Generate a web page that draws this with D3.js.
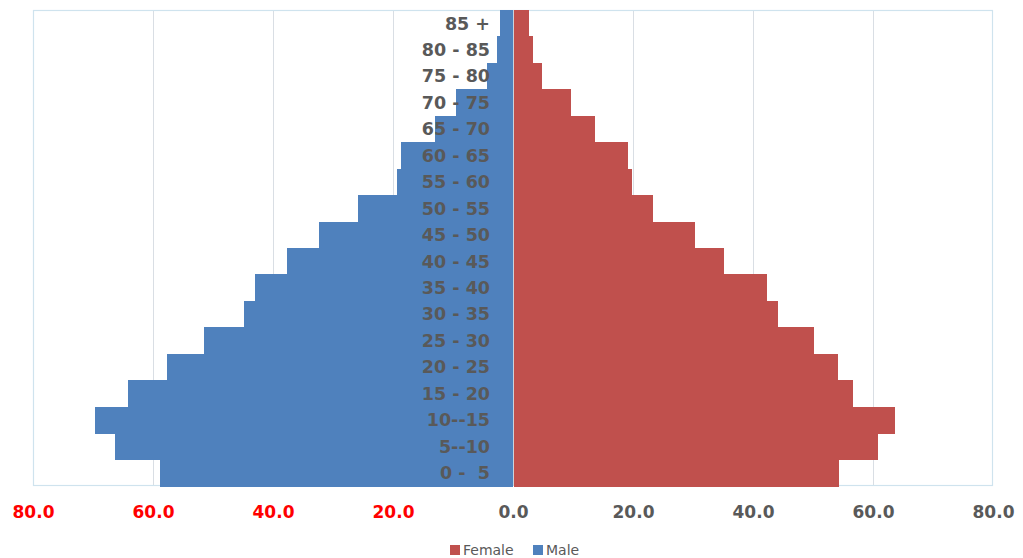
<!DOCTYPE html>
<html>
<head>
<meta charset="utf-8">
<script src="https://cdn.jsdelivr.net/npm/d3@7"></script>
<style>
  html, body { margin: 0; padding: 0; background: #fff; }
  svg { display: block; }
</style>
</head>
<body>
<svg id="chart" width="1023" height="558"></svg>
<script>
const ageGroups = ["85 +", "80 - 85", "75 - 80", "70 - 75", "65 - 70", "60 - 65", "55 - 60", "50 - 55", "45 - 50", "40 - 45", "35 - 40", "30 - 35", "25 - 30", "20 - 25", "15 - 20", "10--15", "5--10", "0 -  5"];
const maleValues = [2.2, 2.7, 4.4, 9.5, 13.0, 18.7, 19.4, 25.9, 32.3, 37.6, 43.0, 44.8, 51.5, 57.7, 64.1, 69.6, 66.4, 58.8];
const femaleValues = [2.7, 3.3, 4.8, 9.6, 13.6, 19.1, 19.8, 23.3, 30.3, 35.1, 42.3, 44.1, 50.2, 54.1, 56.7, 63.6, 60.9, 54.3];
const tickValues = [-80, -60, -40, -20, 0, 20, 40, 60, 80];
const seriesNames = ["Female", "Male"];

(function () {
const svg = d3.select("#chart");
const pLeft = 33, pRight = 993, pTop = 10, pBottom = 486;
const colors = { Female: "#C0504D", Male: "#4F81BD" };

const x = d3.scaleLinear().domain([-80, 80]).range([pLeft, pRight]);
const y = d3.scaleBand().domain(ageGroups).range([pTop, pBottom]).padding(0);

// gridlines
svg.append("g").selectAll("line")
  .data(tickValues.filter(d => d !== 0 && Math.abs(d) !== 80))
  .join("line")
  .attr("x1", d => x(d) + 0.5).attr("x2", d => x(d) + 0.5)
  .attr("y1", pTop).attr("y2", pBottom)
  .attr("stroke", "#D9DEE4").attr("stroke-width", 1);

// plot border
svg.append("rect")
  .attr("x", pLeft + 0.5).attr("y", pTop + 0.5)
  .attr("width", pRight - pLeft - 1).attr("height", pBottom - pTop - 1)
  .attr("fill", "none").attr("stroke", "#CFE3EE").attr("stroke-width", 1.2);

// male bars
svg.append("g").attr("shape-rendering", "crispEdges").selectAll("rect")
  .data(ageGroups.map((g, i) => ({ g, v: maleValues[i] })))
  .join("rect")
  .attr("x", d => x(-d.v)).attr("width", d => x(0) - 0.5 - x(-d.v))
  .attr("y", d => y(d.g)).attr("height", y.bandwidth() + 0.6)
  .attr("fill", colors.Male);

// female bars
svg.append("g").attr("shape-rendering", "crispEdges").selectAll("rect")
  .data(ageGroups.map((g, i) => ({ g, v: femaleValues[i] })))
  .join("rect")
  .attr("x", x(0) + 1).attr("width", d => x(d.v) - x(0) - 1)
  .attr("y", d => y(d.g)).attr("height", y.bandwidth() + 0.6)
  .attr("fill", colors.Female);

// zero line
svg.append("line")
  .attr("x1", x(0) + 0.5).attr("x2", x(0) + 0.5)
  .attr("y1", pTop).attr("y2", pBottom)
  .attr("stroke", "#C9D4DE").attr("stroke-width", 1);

// category labels
svg.append("g").selectAll("text")
  .data(ageGroups)
  .join("text")
  .attr("x", 490)
  .attr("y", d => y(d) + y.bandwidth() / 2)
  .attr("dy", "0.36em")
  .attr("text-anchor", "end")
  .attr("font-family", "DejaVu Sans, sans-serif")
  .attr("font-weight", "bold")
  .attr("font-size", 17.5)
  .attr("fill", "#595959")
  .style("white-space", "pre")
  .text(d => d);

// x axis
const axis = d3.axisBottom(x).tickValues(tickValues)
  .tickFormat(d => Math.abs(d).toFixed(1)).tickSize(0).tickPadding(0);
const gAxis = svg.append("g").attr("transform", `translate(0, ${pBottom})`).call(axis);
gAxis.select(".domain").remove();
gAxis.selectAll("text")
  .attr("y", 32)
  .attr("dy", 0)
  .attr("font-family", "DejaVu Sans, sans-serif")
  .attr("font-weight", "bold")
  .attr("font-size", 17)
  .attr("fill", d => d < 0 ? "#FF0000" : "#595959");

// legend
const legend = svg.append("g").attr("transform", "translate(450, 550)");
const legendX = [0, 83];
seriesNames.forEach((name, i) => {
  const g = legend.append("g").attr("transform", `translate(${legendX[i]}, 0)`);
  g.append("rect").attr("x", 0).attr("y", -5).attr("width", 10).attr("height", 10).attr("fill", colors[name]);
  g.append("text").attr("x", 13).attr("y", 0).attr("dy", "0.36em")
    .attr("font-family", "DejaVu Sans, sans-serif").attr("font-size", 14)
    .attr("fill", "#595959").text(name);
});
})();
</script>
</body>
</html>
